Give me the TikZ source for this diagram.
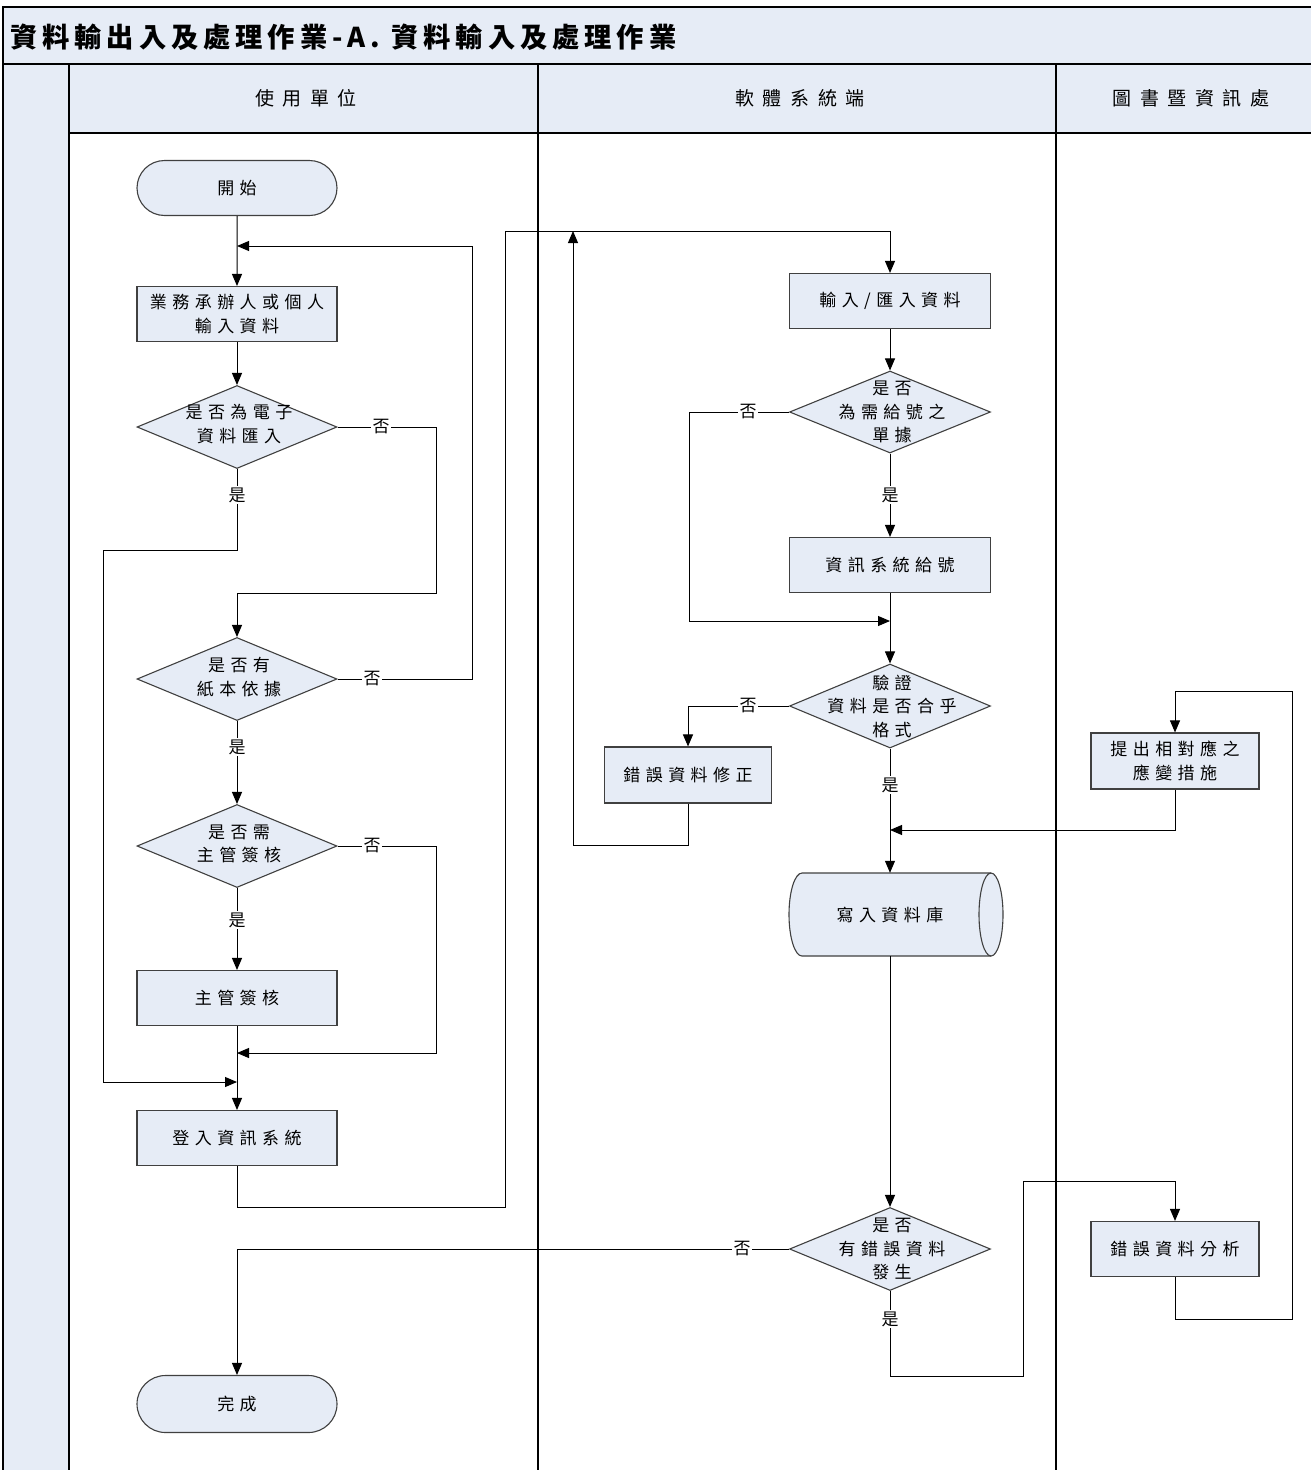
\documentclass[tikz,border=0pt]{standalone}
\usepackage{fontspec}
\setmainfont{Noto Sans CJK TC}
\newfontfamily\bodyf{Noto Sans CJK TC}[LetterSpace=32]
\newfontfamily\headf{Noto Sans CJK TC}[LetterSpace=45]
\newfontfamily\titlef{Noto Sans CJK TC}[LetterSpace=18]
\usetikzlibrary{shapes.geometric,shapes.misc,arrows.meta}
\definecolor{lanefill}{RGB}{230,236,246}
\definecolor{boxline}{RGB}{64,64,64}
\begin{document}
\begin{tikzpicture}[x=1pt,y=-1pt,
  box/.style={draw=boxline, fill=lanefill, line width=1.1pt, minimum width=200pt, minimum height=55pt, inner sep=0pt, align=center, font=\bodyf\fontsize{17}{23.5}\selectfont},
  sbox/.style={box, minimum width=167pt},
  term/.style={box, rounded rectangle},
  dia/.style={diamond, draw=boxline, fill=lanefill, line width=1.1pt, minimum width=200pt, minimum height=83pt, inner sep=0pt},
  txt/.style={align=center, inner sep=0pt, font=\bodyf\fontsize{17}{23.5}\selectfont},
  lbl/.style={fill=white, inner sep=1.5pt, font=\bodyf\fontsize{17}{18}\selectfont},
  hdr/.style={inner sep=0pt, font=\headf\fontsize{19}{21}\selectfont},
  ln/.style={draw=black, line width=1pt},
  arr/.style={ln, -{Triangle[length=12pt,width=10pt]}},
  frame/.style={draw=black, line width=1.3pt}
]
\useasboundingbox (0,0) rectangle (1311,1470);
% backgrounds
\fill[lanefill] (3,7) rectangle (1311,64);
\fill[lanefill] (69,64) rectangle (1311,133);
\fill[lanefill] (3,64) rectangle (69,1470);
\draw[frame] (3,1470) -- (3,7) -- (1311,7);
\draw[frame] (3,64) -- (1311,64);
\draw[frame] (69,133) -- (1311,133);
\draw[frame] (69,64) -- (69,1470);
\draw[frame] (538,64) -- (538,1470);
\draw[frame] (1056,64) -- (1056,1470);
\node[anchor=west, inner sep=0pt, font=\titlef\bfseries\fontsize{27.3}{30}\selectfont] (title) at (10,37) {資料輸出入及處理作業-A. 資料輸入及處理作業};
\node[hdr] (h1) at (306,98) {使用單位};
\node[hdr] (h2) at (800,98) {軟體系統端};
\node[hdr] (h3) at (1191,98) {圖書暨資訊處};

% database cylinder shape
\path[draw=boxline, fill=lanefill, line width=1.1pt] (802,873) -- (991,873) arc[start angle=-90, end angle=90, x radius=12, y radius=41.5] -- (802,956) arc[start angle=90, end angle=270, x radius=13, y radius=41.5] -- cycle;
\draw[boxline, line width=1.1pt] (991,873) arc[start angle=-90, end angle=-270, x radius=12, y radius=41.5];

% nodes - user lane
\node[term] (start) at (237,188) {開始};
\node[box] (n1) at (237,314) {業務承辦人或個人\\輸入資料};
\node[dia] (d1) at (237,427) {};
\node[txt] (d1t) at (239,424) {是否為電子\\資料匯入};
\node[dia] (d2) at (237,679) {};
\node[txt] (d2t) at (239,677) {是否有\\紙本依據};
\node[dia] (d3) at (237,846) {};
\node[txt] (d3t) at (239,844) {是否需\\主管簽核};
\node[box] (n2) at (237,998) {主管簽核};
\node[box] (n3) at (237,1138) {登入資訊系統};
\node[term, minimum height=57pt] (end) at (237,1404) {完成};

% nodes - system lane
\node[box, minimum width=201pt] (m1) at (890,301) {輸入/匯入資料};
\node[dia, minimum width=201pt, minimum height=82pt] (da) at (890,412) {};
\node[txt] (dat) at (892,412) {是否\\為需給號之\\單據};
\node[box, minimum width=201pt] (m2) at (890,565) {資訊系統給號};
\node[dia, minimum width=201pt, minimum height=84pt] (db) at (890,706) {};
\node[txt] (dbt) at (892,706) {驗證\\資料是否合乎\\格式};
\node[sbox, minimum height=56pt] (m3) at (688,775) {錯誤資料修正};
\node[txt, minimum width=200pt, minimum height=83pt] (cyl) at (890,914.5) {寫入資料庫};
\node[dia, minimum width=201pt] (dc) at (890,1249) {};
\node[txt] (dct) at (892,1249) {是否\\有錯誤資料\\發生};

% nodes - library lane
\node[box, minimum width=168pt, minimum height=56pt] (r1) at (1175,761) {提出相對應之\\應變措施};
\node[box, minimum width=168pt] (r2) at (1175,1249) {錯誤資料分析};

% connectors
\draw[arr] (start) -- (n1);
\draw[arr] (d2.east) -- (472,679) -- (472,246) -- (237,246);
\draw[arr] (n1) -- (d1);
\draw[arr] (d1.east) -- (436,427) -- (436,593) -| (d2.north);
\draw[arr] (d1.south) -- (237,550) -- (103,550) -- (103,1082) -- (237,1082);
\draw[arr] (d2) -- (d3);
\draw[arr] (d3.east) -- (436,846) -- (436,1053) -- (237,1053);
\draw[arr] (d3) -- (n2);
\draw[arr] (n2) -- (n3);
\draw[arr] (n3.south) -- (237,1207) -- (505,1207) -- (505,231) -| (m1.north);
\draw[arr] (m1) -- (da);
\draw[arr] (da.west) -- (689,412) -- (689,621) -- (890,621);
\draw[arr] (da) -- (m2);
\draw[arr] (m2) -- (db);
\draw[arr] (db.west) -| (m3.north);
\draw[arr] (m3.south) -- (688,845) -- (573,845) -- (573,231);
\draw[arr] (db.south) -- (cyl.north);
\draw[arr] (r1.south) -- (1175,830) -- (890,830);
\draw[arr] (cyl.south) -- (dc.north);
\draw[arr] (dc.west) -- (237,1249) -- (end.north);
\draw[arr] (dc.south) -- (890,1376) -- (1023,1376) -- (1023,1181) -| (r2.north);
\draw[arr] (r2.south) -- (1175,1319) -- (1292,1319) -- (1292,691) -| (r1.north);

% labels
\node[lbl] (l1) at (381,427) {否};
\node[lbl] (l2) at (237,495) {是};
\node[lbl] (l3) at (372,679) {否};
\node[lbl] (l4) at (237,747) {是};
\node[lbl] (l5) at (372,846) {否};
\node[lbl] (l6) at (237,920) {是};
\node[lbl] (l7) at (748,412) {否};
\node[lbl] (l8) at (890,495) {是};
\node[lbl] (l9) at (748,706) {否};
\node[lbl] (l10) at (890,785) {是};
\node[lbl] (l11) at (742,1249) {否};
\node[lbl] (l12) at (890,1319) {是};
\end{tikzpicture}
\end{document}
